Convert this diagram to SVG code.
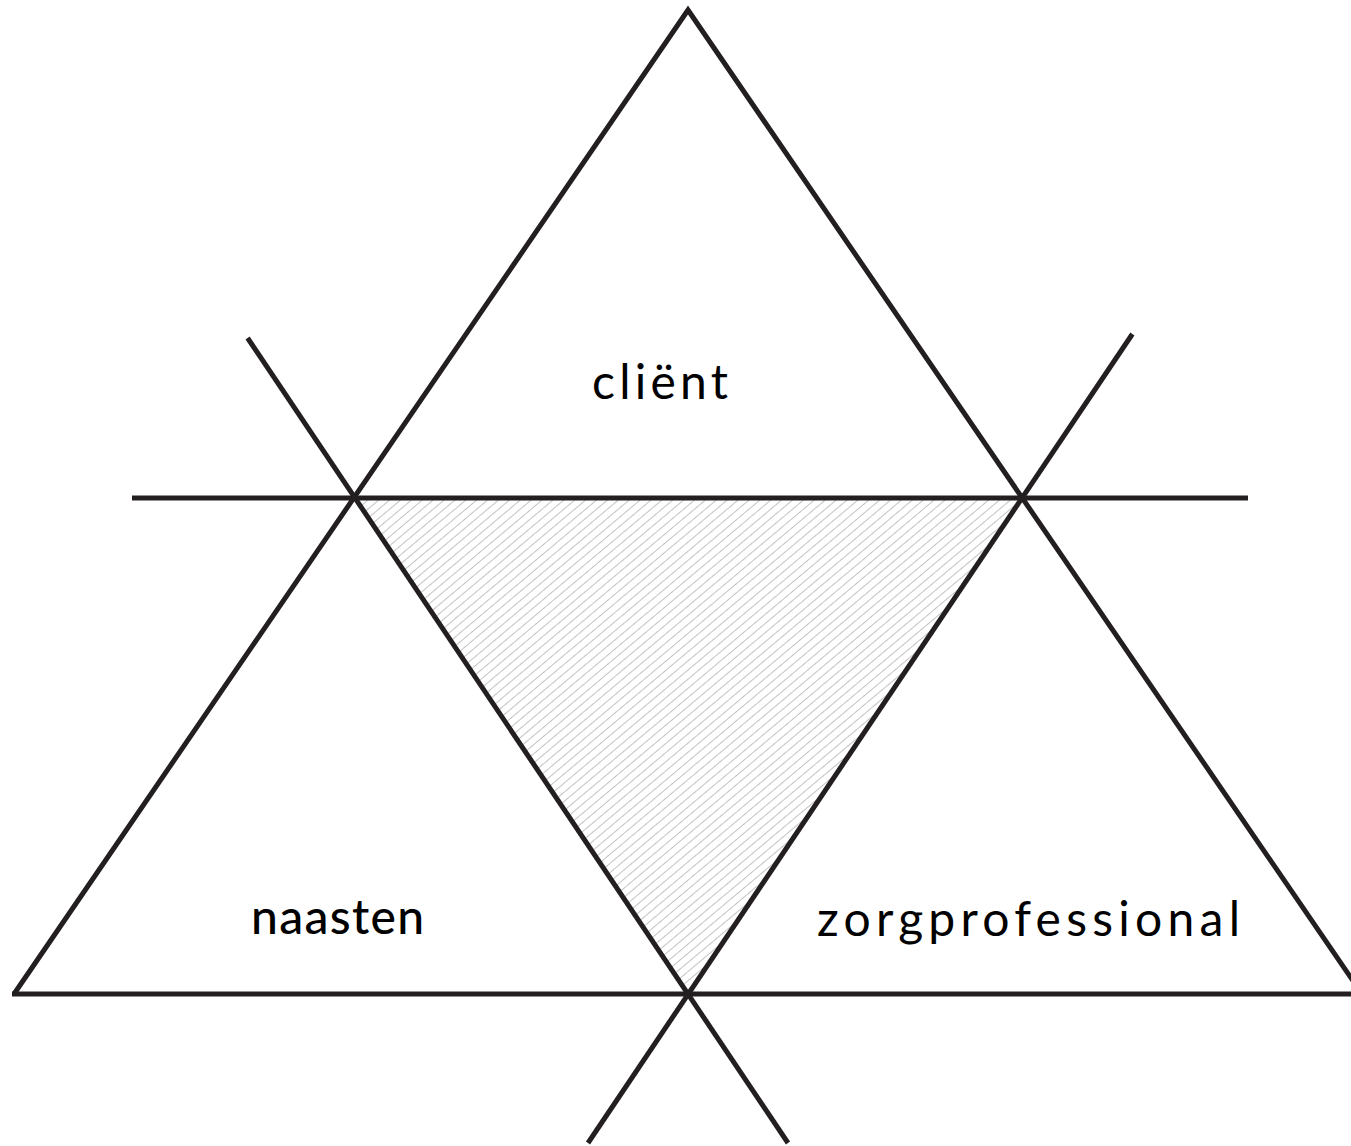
<svg xmlns="http://www.w3.org/2000/svg" width="1351" height="1146" viewBox="0 0 1351 1146">
<defs>
<pattern id="hatch" patternUnits="userSpaceOnUse" width="20" height="7" patternTransform="rotate(-40)">
<line x1="0" y1="3.5" x2="20" y2="3.5" stroke="#b4b4b4" stroke-width="0.8"/>
</pattern>
<style>
.ln{fill:none;stroke:#231f20;stroke-width:5;stroke-linecap:butt;stroke-linejoin:miter;stroke-miterlimit:20}
.lbl{font-family:"Lato","Noto Sans","Liberation Sans",sans-serif;font-size:48px;fill:#000}
</style>
</defs>
<rect width="1351" height="1146" fill="#fff"/>
<g id="center-area">
<polygon points="355,498 1022,498 688,994" fill="url(#hatch)"/>
</g>
<g id="connectors">
<polyline class="ln" points="14,994 688,10 1362,994"/>
<line class="ln" x1="132" y1="498" x2="1248" y2="498"/>
<line class="ln" x1="12" y1="994" x2="1351" y2="994"/>
<line class="ln" x1="247.6" y1="338" x2="788" y2="1143"/>
<line class="ln" x1="1132.4" y1="334" x2="588" y2="1143"/>
</g>
<g id="node-client">
<text class="lbl" x="592" y="399" textLength="136" lengthAdjust="spacing">cliënt</text>
</g>
<g id="node-naasten">
<text class="lbl" x="251" y="934" textLength="173" lengthAdjust="spacing" font-weight="500">naasten</text>
</g>
<g id="node-zorgprofessional">
<text class="lbl" x="817" y="936" textLength="423" lengthAdjust="spacing">zorgprofessional</text>
</g>
</svg>
